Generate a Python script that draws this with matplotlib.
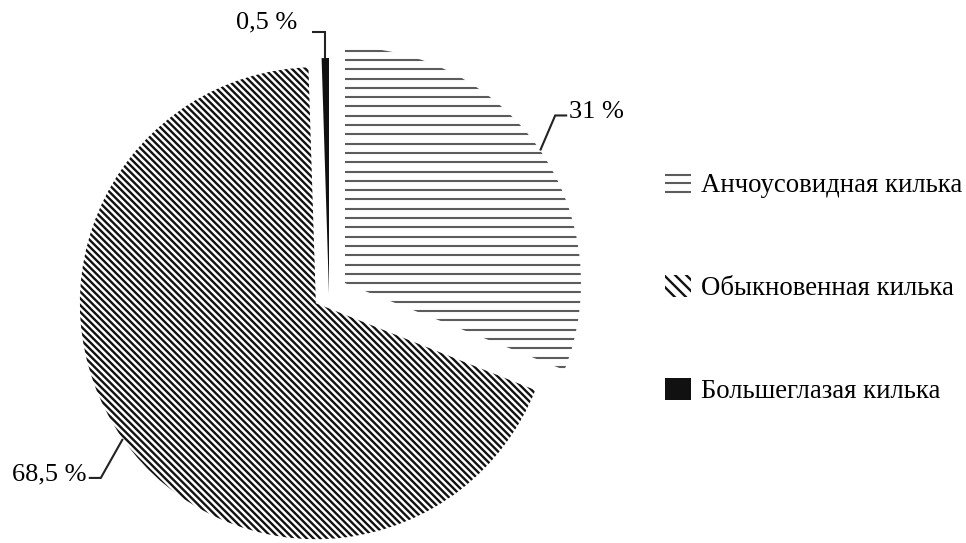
import matplotlib
matplotlib.use('Agg')
import matplotlib.pyplot as plt
from matplotlib.collections import LineCollection
from matplotlib.legend_handler import HandlerBase
from matplotlib.patches import Patch
import numpy as np

plt.rcParams['font.family'] = ['Liberation Serif', 'DejaVu Serif']
plt.rcParams['hatch.linewidth'] = 1.7

species = ['Анчоусовидная килька', 'Обыкновенная килька', 'Большеглазая килька']
shares = [31, 68.5, 0.5]
explode = [0.082, 0.068, 0.0]

# leader layout per label: elbow offset (dx, dy), shelf length, text gap, baseline shift
leaders = [((15, 35), 12, 2, -3),
           ((-22, -39), -12, 2, -3),
           ((0, 26), -13, 15, 4)]

W, H = 966, 543
fig = plt.figure(figsize=(W / 100, H / 100), dpi=100)
ax = fig.add_axes([0, 0, 1, 1])

cx, cy, R = 329, 249, 236
# pie() shifts exploded wedges in data units, so scale by the radius
wedges, _ = ax.pie(shares, explode=[e * R for e in explode], startangle=90,
                   counterclock=False, center=(cx, cy), radius=R,
                   colors=['white', 'white', '#111111'],
                   wedgeprops=dict(linewidth=0))
ax.set_xlim(0, W)
ax.set_ylim(0, H)
ax.set_aspect('equal')
ax.axis('off')


def hatch(w, angle, spacing, lw, color):
    a = np.radians(angle)
    d = np.array([np.cos(a), np.sin(a)])
    n = np.array([-np.sin(a), np.cos(a)])
    c = np.array(w.center)
    segs = []
    for k in range(-150, 151):
        p = c + n * k * spacing
        segs.append([p - d * 1500, p + d * 1500])
    lc = LineCollection(segs, colors=color, linewidths=lw)
    ax.add_collection(lc)
    lc.set_clip_path(w)


hatch(wedges[0], 0, 9.3, 1.5, '#5c5c5c')
hatch(wedges[1], -45, 4.8, 1.7, '#111111')

for w, v, (el, shelf, gap, bdy) in zip(wedges, shares, leaders):
    t = np.radians((w.theta1 + w.theta2) / 2)
    x0 = w.center[0] + w.r * np.cos(t)
    y0 = w.center[1] + w.r * np.sin(t)
    x1, y1 = x0 + el[0], y0 + el[1]
    x2 = x1 + shelf
    ax.plot([x0, x1, x2], [y0, y1, y1], color='#222222', lw=1.5,
            solid_capstyle='butt', solid_joinstyle='miter')
    side = 1 if shelf > 0 else -1
    ax.text(x2 + side * gap, y1 + bdy, f'{v:g} %'.replace('.', ','),
            ha='left' if side > 0 else 'right', va='baseline', fontsize=19)


class StripeHandler(HandlerBase):
    # three horizontal rules for the striped legend key
    def create_artists(self, legend, orig_handle, xdescent, ydescent,
                       width, height, fontsize, trans):
        ys = np.array([0.12, 0.5, 0.88]) * height - ydescent
        segs = [[(-xdescent, y), (width - xdescent, y)] for y in ys]
        lc = LineCollection(segs, colors=orig_handle.get_edgecolor(),
                            linewidths=1.5, transform=trans)
        return [lc]


handles = [Patch(facecolor='white', edgecolor='#5c5c5c', lw=0),
           Patch(facecolor='white', edgecolor='#111111', hatch='\\\\\\', lw=0),
           Patch(facecolor='#111111', edgecolor='#111111', lw=0)]
fig.legend(handles, species, loc='center left', bbox_to_anchor=(665 / W, 1 - 288 / H),
           frameon=False, fontsize=19.3, handlelength=0.98, handleheight=0.92,
           handletextpad=0.35, labelspacing=2.85, borderpad=0, borderaxespad=0,
           handler_map={handles[0]: StripeHandler()})

fig.savefig('out.png', dpi=100, facecolor='white')
